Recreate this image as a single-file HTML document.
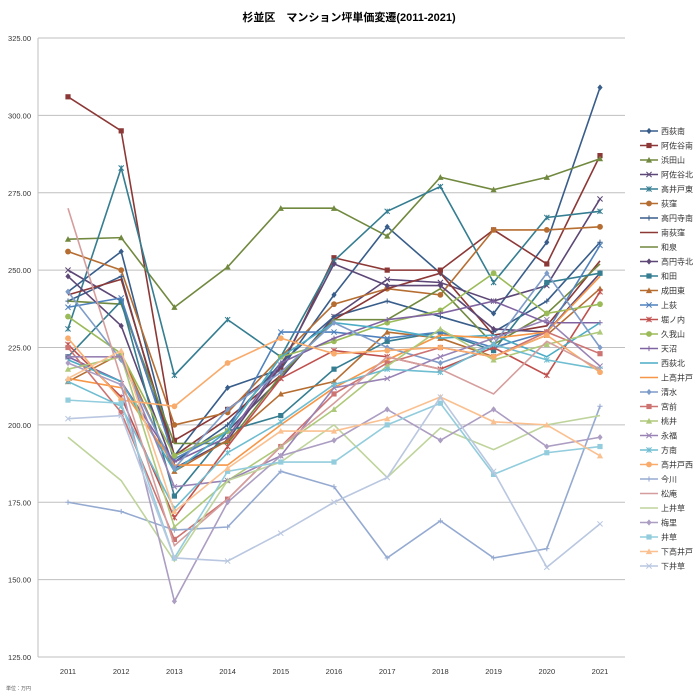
<!DOCTYPE html>
<html><head><meta charset="utf-8"><style>
body{margin:0;background:#fff;}
svg{display:block;font-family:"Liberation Sans","Noto Sans CJK JP",sans-serif;}
</style></head><body>
<svg id="c" width="699" height="700"></svg>
<script>
const years=["2011","2012","2013","2014","2015","2016","2017","2018","2019","2020","2021"];
const yTicks=[125,150,175,200,225,250,275,300,325];
const names=["西荻南","阿佐谷南","浜田山","阿佐谷北","高井戸東","荻窪","高円寺南","南荻窪","和泉","高円寺北","和田","成田東","上荻","堀ノ内","久我山","天沼","西荻北","上高井戸","清水","宮前","桃井","永福","方南","高井戸西","今川","松庵","上井草","梅里","井草","下高井戸","下井草"];
const s01=[243,256,190,212,218,242,264,249,236,259,309];
const s02=[306,295,195,205,218,254,250,250,263,252,287];
const s03=[260,260.5,238,251,270,270,261,280,276,280,286];
const s04=[250,240,190,198,215,235,247,246,240,245,273];
const s05=[231,283,216,234,222,253,269,277,246,267,269];
const s06=[256,250,200,204,222,239,244,242,263,263,264];
const s07=[240,248,188,200,220,235,240,235,230,240,259];
const s08=[242,247,190,202,216,234,244,249,229,232,253];
const s09=[240,239,194,194,216,234,234,244,226,236,252];
const s10=[248,232,186,195,219,252,245,245,231,230,249];
const s11=[222,240,177,198,203,218,227,230,224,246,249];
const s12=[214,223,185,195,210,214,230,228,222,229,244];
const s13=[238,241,189,198,230,230,228,230,225,230,258];
const s14=[226,209,170,193,215,224,222,218,225,216,243];
const s15=[235,223,190,198,222,227,233,237,249,236,239];
const s16=[222,214,188,196,220,228,234,236,240,233,233];
const s17=[221,214,185,198,222,233,231,228,229,222,233];
const s18=[215,212,187,187,200,212,221,229,228,230,248];
const s19=[243,221,186,205,217,233,225,220,226,249,225];
const s20=[225,204,163,176,193,210,220,225,222,230,223];
const s21=[218,222,167,182,193,205,219,231,221,226,230];
const s22=[222,222,180,182,190,212,215,222,228,234,219];
const s23=[214,206,173,191,201,213,218,217,226,221,218];
const s24=[228,208,206,220,228,223,224,225,222,229,217];
const s25=[175,172,166,167,185,180,157,169,157,160,206];
const s26=[270,215,161,176,193,207,222,218,210,227,218];
const s27=[196,182,156,182,188,200,183,199,192,200,203];
const s28=[220,213,143,175,190,195,205,195,205,193,196];
const s29=[208,207,157,185,188,188,200,207,184,191,193];
const s30=[215,224,172,186,198,198,202,209,201,200,190];
const s31=[202,203,157,156,165,175,183,209,185,154,168];
const series=[s01,s02,s03,s04,s05,s06,s07,s08,s09,s10,s11,s12,s13,s14,s15,s16,s17,s18,s19,s20,s21,s22,s23,s24,s25,s26,s27,s28,s29,s30,s31];
const colors=["#385D8A","#8C3836","#71893F","#5C4776","#357D91","#B66D31","#385D8A","#8C3836","#71893F","#5C4776","#357D91","#B66D31","#4F81BD","#C0504D","#9BBB59","#8064A2","#4BACC6","#F79646","#7E9CC9","#CD7371","#AFC97A","#9983B5","#6FBDD1","#F9AB6B","#95AAD1","#D59E9D","#BFD49C","#AC9DC2","#93CDDD","#FAC090","#B9C7E0"];
const markers=["d","s","t","x","*","o","+","","","d","s","t","x","*","o","+","","","d","s","t","x","*","o","+","","","d","s","t","x"];

const NS="http://www.w3.org/2000/svg";
const svg=document.getElementById('c');
function mk(tag,attrs,parent){const e=document.createElementNS(NS,tag);for(const k in attrs)e.setAttribute(k,attrs[k]);(parent||svg).appendChild(e);return e;}
const X0=68,XS=53.2,L=38,R=625;
const xScale=i=>X0+i*XS;
const yScale=v=>38+(325-v)*3.095;

const t=mk('text',{x:349,y:21,'text-anchor':'middle','font-size':11,'font-weight':'bold',fill:'#000'});
t.textContent="杉並区　マンション坪単価変遷(2011-2021)";



yTicks.forEach(v=>{
  const g=mk('line',{x1:L,x2:R,y1:yScale(v),y2:yScale(v),stroke:'#BFBFBF','stroke-width':1});
  
  
  const lb=mk('text',{x:31,y:yScale(v)+3,'text-anchor':'end','font-size':7.5,fill:'#333'});
  lb.textContent=v.toFixed(2);
  
  
});
const ax=mk('line',{x1:L,x2:L,y1:38,y2:yScale(125),stroke:'#BFBFBF'});


years.forEach((y,i)=>{
  const lb=mk('text',{x:xScale(i),y:674,'text-anchor':'middle','font-size':7.5,fill:'#333'});
  lb.textContent=y;
  
  
});
const u=mk('text',{x:6,y:690,'font-size':5,fill:'#555'});
u.textContent="単位：万円";



function marker(type,x,y,c,g){
  const r=2.6;
  if(type==="d")mk('polygon',{points:`${x},${y-r-0.5} ${x+r},${y} ${x},${y+r+0.5} ${x-r},${y}`,fill:c},g);
  else if(type==="s")mk('rect',{x:x-r,y:y-r,width:2*r,height:2*r,fill:c},g);
  else if(type==="t")mk('polygon',{points:`${x},${y-r-0.5} ${x+r+0.5},${y+r} ${x-r-0.5},${y+r}`,fill:c},g);
  else if(type==="o")mk('circle',{cx:x,cy:y,r:r+0.3,fill:c},g);
  else if(type==="x")mk('path',{d:`M${x-r},${y-r}L${x+r},${y+r}M${x-r},${y+r}L${x+r},${y-r}`,stroke:c,'stroke-width':1},g);
  else if(type==="+")mk('path',{d:`M${x-r},${y}L${x+r},${y}M${x},${y-r}L${x},${y+r}`,stroke:c,'stroke-width':1},g);
  else if(type==="*")mk('path',{d:`M${x-r},${y-r}L${x+r},${y+r}M${x-r},${y+r}L${x+r},${y-r}M${x},${y-r}L${x},${y+r}`,stroke:c,'stroke-width':1},g);
}

series.forEach((d,si)=>{
  const g=mk('g',{});
  
  
  const pts=d.map((v,i)=>xScale(i)+","+yScale(v)).join(" ");
  mk('polyline',{points:pts,fill:'none',stroke:colors[si],'stroke-width':1.6},g);
  d.forEach((v,i)=>marker(markers[si],xScale(i),yScale(v),colors[si],g));
  // legend
  const ly=131+si*14.5;
  const lg=mk('g',{});
  
  
  mk('line',{x1:640,x2:658,y1:ly,y2:ly,stroke:colors[si],'stroke-width':1.6},lg);
  marker(markers[si],649,ly,colors[si],lg);
  const lt=mk('text',{x:661,y:ly+3,'font-size':8,fill:'#333'},lg);
  lt.textContent=names[si];
});
</script>
</body></html>
